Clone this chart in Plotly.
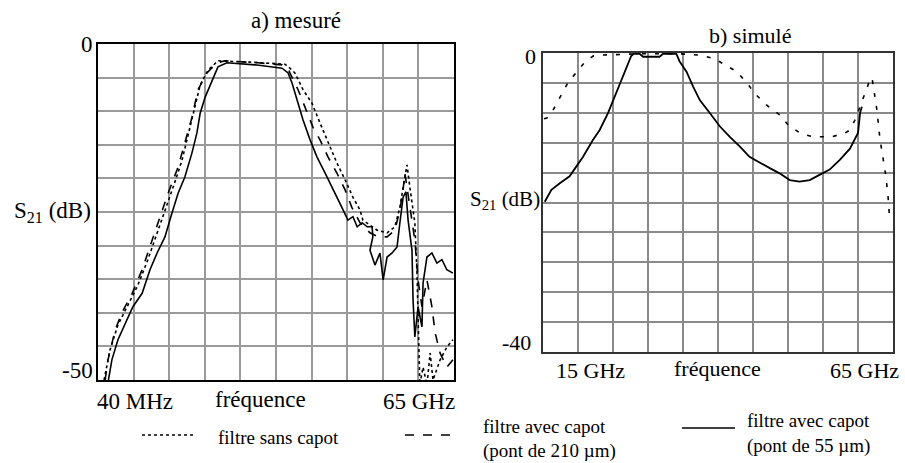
import plotly.graph_objects as go

W, H = 905, 463
FONT = "Liberation Serif"

# a) mesuré : x in grid divisions (40 MHz .. 65 GHz), y in dB
a_x_sans = [0.17, 0.34, 0.56, 0.84, 1.12, 1.40, 1.63, 1.88, 2.13, 2.36, 2.53, 2.70, 2.87, 3.09, 3.37,
            4.27, 5.25, 5.39, 5.53, 5.76, 6.01, 6.24, 6.46, 6.71, 6.94, 7.16, 7.36, 7.44, 7.84, 8.12,
            8.34, 8.48, 8.62, 8.68, 8.76, 8.90, 8.96, 8.99, 9.04, 9.13, 9.24, 9.33, 9.41, 9.61, 9.80, 9.97]
a_y_sans = [-50.0, -45.5, -41.8, -38.8, -35.9, -32.1, -28.7, -24.7, -21.0, -17.3, -13.5, -9.5, -6.1, -3.9, -2.5,
            -2.7, -3.0, -3.6, -4.3, -6.8, -8.8, -11.8, -14.7, -17.7, -20.2, -22.8, -24.7, -26.2, -27.7, -28.1,
            -27.2, -24.3, -19.8, -18.0, -21.3, -26.6, -34.1, -42.1, -50.7, -48.1, -50.7, -46.0, -50.0, -47.0, -45.1, -44.0]

a_x_210 = [0.20, 0.28, 0.48, 0.67, 0.96, 1.24, 1.52, 1.74, 1.97, 2.25, 2.44, 2.64, 2.81, 3.06, 3.34,
           3.57, 4.50, 5.17, 5.34, 5.39, 5.62, 5.81, 6.04, 6.24, 6.46, 6.71, 6.94, 7.13, 7.28, 7.36,
           7.64, 7.87, 8.12, 8.34, 8.48, 8.57, 8.62, 8.76, 8.90, 8.99, 9.10, 9.24, 9.38, 9.47, 9.61, 9.80, 9.97]
a_y_210 = [-50.0, -47.0, -42.6, -40.0, -37.1, -33.6, -29.2, -25.7, -22.2, -18.3, -14.7, -10.9, -6.8, -4.3, -2.8,
           -2.5, -2.8, -3.1, -3.6, -4.3, -6.8, -9.4, -12.4, -14.3, -16.8, -19.2, -21.7, -24.3, -25.7, -26.6,
           -28.1, -28.7, -28.7, -27.7, -24.7, -21.7, -19.2, -24.3, -29.2, -35.1, -39.1, -35.1, -39.1, -43.0, -46.0, -48.1, -47.0]

a_x_55 = [0.28, 0.39, 0.56, 0.81, 0.98, 1.24, 1.46, 1.66, 1.88, 2.08, 2.25, 2.44, 2.64, 2.78, 2.87,
          3.01, 3.20, 3.37, 3.62, 4.41, 5.17, 5.34, 5.45, 5.62, 5.76, 5.96, 6.15, 6.38, 6.60, 6.85,
          7.02, 7.16, 7.28, 7.42, 7.56, 7.70, 7.72, 7.64, 7.78, 7.92, 8.01, 8.12, 8.26, 8.40, 8.48,
          8.57, 8.65, 8.71, 8.82, 8.85, 8.90, 8.99, 9.10, 9.13, 9.24, 9.38, 9.52, 9.66, 9.80, 9.97]
a_y_55 = [-50.4, -47.0, -44.0, -41.1, -39.1, -37.1, -33.6, -31.1, -28.7, -25.1, -22.2, -19.8, -16.2, -13.2, -10.3,
          -7.9, -5.4, -3.4, -2.8, -3.1, -3.6, -4.3, -5.8, -8.8, -11.3, -14.3, -16.8, -19.2, -21.7, -24.3,
          -26.2, -25.7, -27.2, -26.6, -27.2, -27.2, -28.7, -30.7, -32.9, -31.1, -35.1, -31.7, -31.1, -30.2, -26.6,
          -22.8, -22.0, -26.2, -30.7, -38.1, -43.6, -39.1, -42.1, -35.6, -31.7, -31.1, -32.6, -32.1, -33.6, -34.1]

# b) simulé : x in grid divisions (15 GHz .. 65 GHz), y in dB
b_x_55 = [0.05, 0.24, 0.49, 0.76, 0.95, 1.14, 1.43, 1.62, 1.86, 2.05, 2.24, 2.38, 2.52, 2.59, 2.76,
          2.86, 3.33, 3.43, 3.81, 3.90, 4.10, 4.29, 4.48, 4.76, 5.05, 5.33, 5.62, 5.90, 6.19, 6.48,
          6.76, 7.05, 7.33, 7.62, 7.90, 8.19, 8.48, 8.77, 9.00, 9.06, 9.11]
b_y_55 = [-19.9, -18.3, -17.4, -16.5, -15.2, -13.9, -11.6, -10.3, -8.0, -5.8, -3.8, -2.2, -0.4, -0.1, -0.1,
          -0.5, -0.5, -0.1, -0.1, -1.1, -2.5, -4.5, -6.3, -8.0, -9.8, -11.2, -12.5, -13.9, -14.7, -15.4,
          -16.1, -17.0, -17.2, -17.0, -16.3, -15.6, -14.3, -12.8, -10.7, -8.0, -7.2]

b_x_sim = [0.03, 0.11, 0.29, 0.49, 0.71, 0.97, 1.20, 1.43, 1.57, 2.77, 3.91, 4.49, 4.86, 5.06, 5.54,
           5.91, 6.00, 6.40, 6.77, 7.00, 7.34, 7.69, 8.26, 8.63, 8.77, 8.91, 9.06, 9.20, 9.34, 9.40,
           9.54, 9.63, 9.71, 9.80, 9.86, 9.91]
b_y_sim = [-8.8, -8.7, -7.6, -5.9, -4.0, -2.5, -1.2, -0.4, -0.3, -0.1, -0.1, -0.3, -0.7, -1.2, -2.5,
           -4.5, -5.2, -7.0, -8.3, -9.6, -10.7, -11.2, -11.2, -10.7, -10.3, -9.0, -7.0, -5.4, -3.6, -3.3,
           -7.6, -11.6, -13.9, -16.6, -19.3, -22.6]


def px(x):
    return x / W


def py(y):
    return 1 - y / H


fig = go.Figure()
line = dict(color="black", width=1.6)
fig.add_trace(go.Scatter(x=a_x_sans, y=a_y_sans, mode="lines", line=dict(line, dash="dot"), name="filtre sans capot"))
fig.add_trace(go.Scatter(x=a_x_210, y=a_y_210, mode="lines", line=dict(line, dash="dash"), name="pont de 210 µm"))
fig.add_trace(go.Scatter(x=a_x_55, y=a_y_55, mode="lines", line=line, name="pont de 55 µm"))
fig.add_trace(go.Scatter(x=b_x_sim, y=b_y_sim, mode="lines", line=dict(color="black", width=1.6, dash="4px,9px"),
                         xaxis="x2", yaxis="y2", name="simulé"))
fig.add_trace(go.Scatter(x=b_x_55, y=b_y_55, mode="lines", line=dict(color="black", width=1.8),
                         xaxis="x2", yaxis="y2", name="simulé 55 µm"))

ax = dict(showticklabels=False, ticks="", zeroline=False, showgrid=True, gridcolor="#9a9a9a", gridwidth=1.5,
          showline=True, mirror=True, linecolor="black", linewidth=2)
fig.update_layout(
    width=W, height=H, margin=dict(l=0, r=0, t=0, b=0),
    paper_bgcolor="white", plot_bgcolor="white", showlegend=False,
    font=dict(family=FONT, color="black", size=22),
    xaxis=dict(ax, domain=[px(98), px(454)], range=[0, 10], dtick=1, tick0=0),
    yaxis=dict(ax, domain=[py(380), py(44)], range=[-50, 0], dtick=5, tick0=0),
    xaxis2=dict(ax, domain=[px(543), px(893)], range=[0, 10], dtick=1, tick0=0, anchor="y2",
                gridcolor="#8a8a8a", linecolor="#333"),
    yaxis2=dict(ax, domain=[py(352), py(53)], range=[-40, 0], dtick=4, tick0=0, anchor="x2",
                gridcolor="#8a8a8a", linecolor="#333"),
)

texts = [
    ("a) mesuré", 296, 20, "center", 23),
    ("0", 95, 44, "right", 23),
    ("-50", 95, 370, "right", 23),
    ("S<sub>21</sub> (dB)", 12, 212, "left", 23),
    ("40 MHz", 135, 401, "center", 23),
    ("fréquence", 260, 399, "center", 23),
    ("65 GHz", 419, 401, "center", 23),
    ("b) simulé", 750, 35, "center", 22),
    ("0", 538, 56, "right", 22),
    ("-40", 533, 342, "right", 22),
    ("S<sub>21</sub> (dB)", 468, 200, "left", 21),
    ("15 GHz", 590, 370, "center", 22),
    ("fréquence", 717, 368, "center", 22),
    ("65 GHz", 864, 370, "center", 22),
    ("filtre sans capot", 216, 437, "left", 19),
    ("filtre avec capot", 481, 426, "left", 19),
    ("(pont de 210 µm)", 481, 451, "left", 19),
    ("filtre avec capot", 745, 420, "left", 19),
    ("(pont de 55 µm)", 745, 446, "left", 19),
]
for t, x, y, anc, size in texts:
    fig.add_annotation(text=t, x=px(x), y=py(y), xref="paper", yref="paper", xanchor=anc, yanchor="middle",
                       showarrow=False, font=dict(size=size))

# legend samples
samples = [(142, 194, 435, "dot"), (405, 458, 435, "dash"), (682, 735, 428, "solid")]
for x0, x1, y, dash in samples:
    fig.add_shape(type="line", xref="paper", yref="paper", x0=px(x0), x1=px(x1), y0=py(y), y1=py(y),
                  line=dict(color="black", width=1.6, dash=dash))

# the page's default body margin would push the figure 8px off
fig.write_html("out.html", config={"displayModeBar": False},
               post_script="document.body.style.margin='0';")
